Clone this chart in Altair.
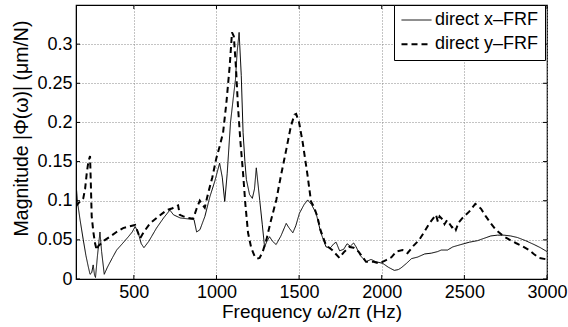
import altair as alt
import pandas as pd

# direct x-FRF (solid)
fx = [150, 160, 175, 194, 210, 224, 235, 245, 254, 262, 268, 280, 295, 305, 321, 340, 370, 396, 430, 467,
      490, 508, 525, 545, 561, 590, 637, 680, 718, 740, 780, 820, 864, 880, 900, 930, 960, 990, 1019, 1035,
      1050, 1065, 1085, 1101, 1115, 1125, 1137, 1150, 1161, 1172, 1181, 1200, 1217, 1230, 1241, 1252, 1262,
      1277, 1291, 1305, 1321, 1340, 1361, 1390, 1422, 1440, 1462, 1480, 1502, 1530, 1552, 1575, 1603, 1630,
      1663, 1690, 1710, 1724, 1745, 1770, 1790, 1810, 1830, 1845, 1870, 1905, 1935, 1966, 2006, 2040, 2076,
      2100, 2116, 2150, 2180, 2217, 2260, 2300, 2338, 2360, 2398, 2430, 2479, 2530, 2580, 2620, 2660, 2700,
      2740, 2780, 2821, 2870, 2922, 2960, 3000]
yx = [0.122, 0.097, 0.075, 0.050, 0.030, 0.016, 0.006, 0.008, 0.018, 0.005, 0.002, 0.030, 0.060, 0.035,
      0.006, 0.015, 0.027, 0.037, 0.045, 0.054, 0.060, 0.067, 0.060, 0.045, 0.040, 0.048, 0.065, 0.078,
      0.088, 0.082, 0.078, 0.077, 0.076, 0.060, 0.063, 0.080, 0.105, 0.125, 0.148, 0.130, 0.099, 0.135,
      0.200, 0.230, 0.255, 0.290, 0.315, 0.260, 0.187, 0.150, 0.127, 0.108, 0.103, 0.115, 0.142, 0.120,
      0.100, 0.070, 0.041, 0.048, 0.054, 0.048, 0.044, 0.055, 0.071, 0.065, 0.059, 0.068, 0.084, 0.095,
      0.101, 0.095, 0.084, 0.060, 0.041, 0.040, 0.045, 0.047, 0.036, 0.038, 0.045, 0.042, 0.046, 0.041,
      0.030, 0.022, 0.025, 0.022, 0.020, 0.015, 0.011, 0.012, 0.014, 0.020, 0.026, 0.028, 0.032, 0.033,
      0.035, 0.037, 0.037, 0.041, 0.044, 0.047, 0.049, 0.052, 0.055, 0.056, 0.056, 0.055, 0.053, 0.049,
      0.044, 0.040, 0.035]

# direct y-FRF (dashed)
fy = [150, 165, 180, 194, 205, 215, 225, 235, 240, 245, 255, 265, 275, 285, 295, 320, 355, 395, 435, 470,
      508, 520, 538, 560, 598, 650, 699, 730, 768, 778, 800, 830, 859, 880, 899, 915, 929, 950, 975, 1000,
      1020, 1040, 1060, 1080, 1094, 1105, 1118, 1130, 1145, 1161, 1175, 1191, 1210, 1231, 1246, 1261, 1280,
      1302, 1330, 1362, 1390, 1422, 1450, 1472, 1482, 1500, 1522, 1552, 1572, 1590, 1610, 1630, 1663, 1700,
      1744, 1770, 1804, 1830, 1860, 1905, 1950, 1986, 2026, 2060, 2087, 2126, 2156, 2190, 2227, 2260, 2288,
      2328, 2340, 2350, 2368, 2380, 2395, 2409, 2425, 2440, 2449, 2465, 2489, 2529, 2566, 2600, 2630, 2660,
      2690, 2741, 2775, 2811, 2850, 2892, 2920, 2952, 3000]
yy = [0.093, 0.097, 0.100, 0.103, 0.115, 0.135, 0.150, 0.157, 0.120, 0.080, 0.060, 0.046, 0.037, 0.042,
      0.044, 0.049, 0.054, 0.060, 0.065, 0.067, 0.069, 0.062, 0.052, 0.060, 0.071, 0.080, 0.088, 0.090,
      0.094, 0.082, 0.080, 0.078, 0.077, 0.090, 0.100, 0.095, 0.091, 0.110, 0.130, 0.155, 0.170, 0.187,
      0.225, 0.272, 0.315, 0.310, 0.270, 0.221, 0.175, 0.135, 0.095, 0.059, 0.040, 0.029, 0.026, 0.027,
      0.035, 0.050, 0.075, 0.101, 0.132, 0.165, 0.195, 0.210, 0.211, 0.200, 0.174, 0.131, 0.099, 0.092,
      0.080, 0.062, 0.043, 0.037, 0.027, 0.034, 0.041, 0.040, 0.035, 0.022, 0.022, 0.020, 0.024, 0.028,
      0.035, 0.037, 0.033, 0.042, 0.050, 0.061, 0.071, 0.082, 0.073, 0.080, 0.076, 0.070, 0.075, 0.071,
      0.066, 0.068, 0.063, 0.072, 0.078, 0.086, 0.096, 0.090, 0.080, 0.071, 0.063, 0.054, 0.050, 0.046,
      0.042, 0.037, 0.032, 0.027, 0.025]

series_names = ["direct x\u2013FRF", "direct y\u2013FRF"]
x_ticks = [500, 1000, 1500, 2000, 2500, 3000]
y_ticks = [0, 0.05, 0.1, 0.15, 0.2, 0.25, 0.3]

df = pd.concat([
    pd.DataFrame({"f": fx, "mag": yx, "series": series_names[0]}),
    pd.DataFrame({"f": fy, "mag": yy, "series": series_names[1]}),
])

W, H = 471, 274
FONT = "Liberation Sans"

xscale = alt.Scale(domain=[150, 3000], nice=False, zero=False)
yscale = alt.Scale(domain=[0, 0.35], nice=False)

lines = alt.Chart(df).mark_line(color="black", clip=True).encode(
    x=alt.X("f:Q", scale=xscale,
            axis=alt.Axis(values=x_ticks, format="d", title="Frequency \u03c9/2\u03c0 (Hz)",
                          grid=True, gridDash=[1, 2], gridColor="#888", ticks=False, labelFlush=False,
                          labelFontSize=18, titleFontSize=19, labelPadding=4, titlePadding=1,
                          labelColor="black", titleColor="black", titleFontWeight="normal",
                          domainColor="black", labelFont=FONT, titleFont=FONT)),
    y=alt.Y("mag:Q", scale=yscale,
            axis=alt.Axis(values=y_ticks, format="~g", title="Magnitude |\u03a6(\u03c9)|  (\u03bcm/N)",
                          grid=True, gridDash=[1, 2], gridColor="#888", ticks=False, labelFlush=False,
                          labelFontSize=18, titleFontSize=19.5, labelPadding=4, titlePadding=5,
                          labelColor="black", titleColor="black", titleFontWeight="normal",
                          domainColor="black", labelFont=FONT, titleFont=FONT, titleY=123)),
    strokeDash=alt.StrokeDash("series:N",
                              scale=alt.Scale(domain=series_names, range=[[1, 0], [6, 4]]),
                              legend=alt.Legend(title=None, orient="none", legendX=318, legendY=0,
                                                strokeColor="black", fillColor="white", padding=6,
                                                symbolType="M-2,0H2", symbolSize=225,
                                                symbolOffset=7.5, symbolFillColor="transparent",
                                                symbolStrokeColor="black",
                                                labelFontSize=18, labelFont=FONT, labelColor="black",
                                                labelOffset=9.5, rowPadding=6.3, cornerRadius=0)),
    strokeWidth=alt.StrokeWidth("series:N",
                                scale=alt.Scale(domain=series_names, range=[1, 2]),
                                legend=None),
    detail="series:N",
)

xt = pd.DataFrame({"t": x_ticks})
yt = pd.DataFrame({"t": y_ticks})

xticks_bottom = alt.Chart(xt).mark_rule(color="black", strokeWidth=1).encode(
    x=alt.X("t:Q", scale=xscale), y=alt.value(H), y2=alt.value(H - 4))
xticks_top = alt.Chart(xt).mark_rule(color="black", strokeWidth=1).encode(
    x=alt.X("t:Q", scale=xscale), y=alt.value(0), y2=alt.value(4))
yticks_left = alt.Chart(yt).mark_rule(color="black", strokeWidth=1).encode(
    y=alt.Y("t:Q", scale=yscale), x=alt.value(0), x2=alt.value(4))
yticks_right = alt.Chart(yt).mark_rule(color="black", strokeWidth=1).encode(
    y=alt.Y("t:Q", scale=yscale), x=alt.value(W), x2=alt.value(W - 4))

chart = alt.layer(lines, xticks_bottom, xticks_top, yticks_left, yticks_right).properties(
    width=W, height=H,
    padding={"left": 76, "top": 5, "right": 21, "bottom": 48},
    autosize=alt.AutoSizeParams(type="none"),
    background="white",
).configure_view(stroke="black", strokeWidth=1.2)

chart.save("out.html", embed_options={"renderer": "svg", "actions": False})
